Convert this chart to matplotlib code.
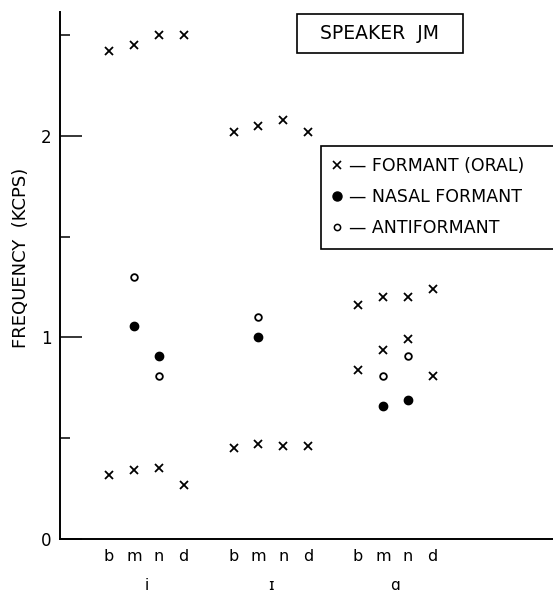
import numpy as np
import matplotlib
matplotlib.use("Agg")
import matplotlib.pyplot as plt
from matplotlib.lines import Line2D
from matplotlib.patches import Rectangle

plt.rcParams['font.family'] = ['DejaVu Sans']

nan = np.nan
vowels = ['i', 'ɪ', 'ɑ']
consonants = ['b', 'm', 'n', 'd']

# formant frequencies (kcps), one value per consonant b m n d
oral_high = {
    'i': [2.42, 2.45, 2.50, 2.50],
    'ɪ': [2.02, 2.05, 2.08, 2.02],
    'ɑ': [1.16, 1.20, 1.20, 1.24],
}
oral_low = {
    'i': [0.32, 0.34, 0.35, 0.27],
    'ɪ': [0.45, 0.47, 0.46, 0.46],
    'ɑ': [0.84, 0.94, 0.99, 0.81],
}
nasal = {
    'i': [nan, 1.055, 0.91, nan],
    'ɪ': [nan, 1.00, nan, nan],
    'ɑ': [nan, 0.66, 0.69, nan],
}
anti = {
    'i': [nan, 1.30, 0.81, nan],
    'ɪ': [nan, 1.10, nan, nan],
    'ɑ': [nan, 0.81, 0.91, nan],
}

W, H = 553, 594
fig = plt.figure(figsize=(W / 100, H / 100), dpi=100)
ax = fig.add_axes([60 / W, (H - 539) / H, (W - 60) / W, (539 - 12) / H])

xs_all = []
for g, v in enumerate(vowels):
    xs = np.arange(4) + 5 * g
    xs_all.extend(xs)
    ax.plot(xs, oral_high[v], 'x', color='black', ms=6.3, mew=1.3)
    ax.plot(xs, oral_low[v], 'x', color='black', ms=6.3, mew=1.3)
    ax.plot(xs, nasal[v], 'o', color='black', ms=6)
    ax.plot(xs, anti[v], 'o', mfc='white', mec='black', ms=4.8, mew=1.3)
    ax.text(xs.mean(), -0.088, v, transform=ax.get_xaxis_transform(),
            ha='center', va='center', fontsize=11)

ax.set_xlim(-1.97, 17.83)
ax.set_ylim(0, 2.615)
ax.set_xticks(xs_all)
ax.set_xticklabels(consonants * 3, fontsize=11.5)
ax.tick_params(axis='x', length=0, pad=7)
ax.set_yticks([0, 1, 2])
ax.set_yticklabels(['0', '1', '2'], fontsize=12)
ax.set_yticks([0.5, 1.5, 2.5], minor=True)
ax.tick_params(axis='y', which='major', direction='in', length=16, width=1.1, pad=6)
ax.tick_params(axis='y', which='minor', direction='in', length=7, width=1.1)
for s in ['top', 'right']:
    ax.spines[s].set_visible(False)
for s in ['left', 'bottom']:
    ax.spines[s].set_linewidth(1.4)

fig.text(21 / W, 1 - 258 / H, 'FREQUENCY  (KCPS)', rotation=90,
         ha='center', va='center', fontsize=13)

# speaker box
fig.add_artist(Rectangle((297 / W, 1 - 53 / H), 166 / W, 39 / H,
                         transform=fig.transFigure, fill=False, ec='black', lw=1.2))
fig.text(380 / W, 1 - 33.5 / H, 'SPEAKER  JM', ha='center', va='center',
         fontsize=13.5)

handles = [
    Line2D([], [], ls='none', marker='x', color='black', ms=5.5, mew=1.2),
    Line2D([], [], ls='none', marker='o', color='black', ms=6.5),
    Line2D([], [], ls='none', marker='o', mfc='white', mec='black', ms=4.5, mew=1.1),
]
labels = ['— FORMANT (ORAL)', '— NASAL FORMANT', '— ANTIFORMANT']
leg = ax.legend(handles, labels, loc='upper left', mode='expand',
                bbox_to_anchor=(321 / W, (H - 247) / H, (620 - 321) / W, 101 / H),
                bbox_transform=fig.transFigure, borderaxespad=0,
                handlelength=0.6, handletextpad=0.35, labelspacing=0.75,
                borderpad=0.65, fontsize=12.5, fancybox=False, framealpha=1,
                edgecolor='black')
leg.get_frame().set_linewidth(1.2)

fig.savefig('out.png', dpi=100)
